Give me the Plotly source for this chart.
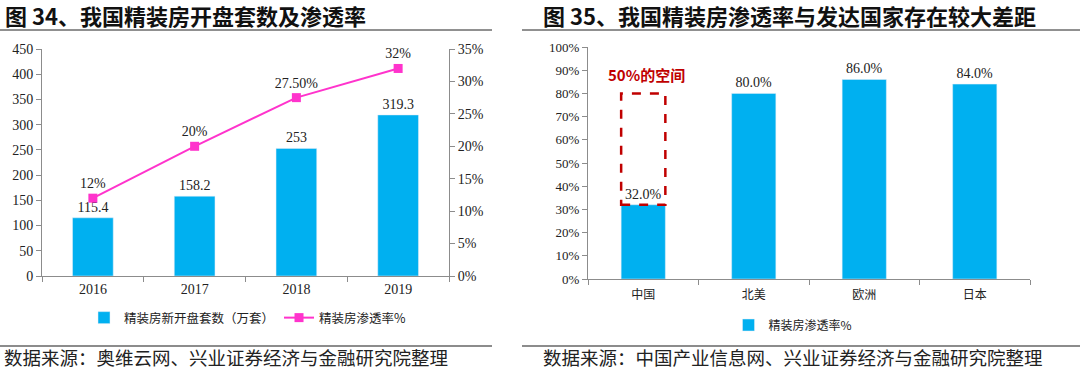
import plotly.graph_objects as go

# ---- data ----
years = ["2016", "2017", "2018", "2019"]
units = [115.4, 158.2, 253, 319.3]               # 万套
rate = [0.12, 0.20, 0.275, 0.32]
rate_labels = ["12%", "20%", "27.50%", "32%"]

regions = ["中国", "北美", "欧洲", "日本"]
pen = [0.32, 0.80, 0.86, 0.84]
gap_label = "50%的空间"

W, H = 1080, 371
def px(x): return x / W
def py(y): return 1 - y / H

BLUE = "#00B0F0"
PINK = "#FF33CC"
GRAY = "#8C8C8C"
SERIF = "Liberation Serif"
CJK = "Noto Sans CJK SC"

fig = go.Figure()

fig.add_trace(go.Bar(
    x=years, y=units, name="精装房新开盘套数（万套）",
    marker=dict(color=BLUE), text=[f"{v:g}" for v in units],
    textposition="outside", cliponaxis=False,
    textfont=dict(family=SERIF, size=14, color="#222"),
    xaxis="x", yaxis="y", legend="legend",
))
fig.add_trace(go.Scatter(
    x=years, y=rate, name="精装房渗透率%", mode="lines+markers+text",
    line=dict(color=PINK, width=2), marker=dict(symbol="square", size=9, color=PINK),
    text=rate_labels, textposition="top center", cliponaxis=False,
    textfont=dict(family=SERIF, size=14, color="#222"),
    xaxis="x", yaxis="y2", legend="legend",
))
fig.add_trace(go.Bar(
    x=regions, y=pen, name="精装房渗透率%",
    marker=dict(color=BLUE), text=[f"{v*100:.1f}%" for v in pen],
    textposition="outside", cliponaxis=False,
    textfont=dict(family=SERIF, size=14, color="#222"),
    xaxis="x3", yaxis="y3", legend="legend2",
))

axis_common = dict(showline=True, linecolor=GRAY, linewidth=1, ticks="outside",
                   tickcolor=GRAY, ticklen=5, showgrid=False, zeroline=False,
                   fixedrange=True, automargin=False)

fig.update_layout(
    width=W, height=H, margin=dict(l=0, r=0, t=0, b=0, autoexpand=False),
    paper_bgcolor="white", plot_bgcolor="white",
    bargap=0.6,
    xaxis=dict(domain=[px(42), px(449)], type="category", tickson="boundaries",
               tickfont=dict(family=SERIF, size=14, color="#222"),
               anchor="y", **axis_common),
    yaxis=dict(domain=[py(276), py(49)], range=[0, 450], dtick=50,
               tickfont=dict(family=SERIF, size=14, color="#222"),
               anchor="x", **axis_common),
    yaxis2=dict(overlaying="y", side="right", range=[0, 0.35], dtick=0.05,
                tickformat=".0%", anchor="x",
                tickfont=dict(family=SERIF, size=14, color="#222"),
                **axis_common),
    xaxis3=dict(domain=[px(588), px(1030)], type="category", tickson="boundaries",
                tickfont=dict(family=CJK, size=12, color="#222"),
                ticklabelstandoff=5,
                anchor="y3", **axis_common),
    yaxis3=dict(domain=[py(279), py(47)], range=[0, 1], dtick=0.1,
                tickformat=".0%", anchor="x3",
                tickfont=dict(family=SERIF, size=13, color="#222"),
                **axis_common),
    legend=dict(orientation="h", x=px(248), y=py(318), xanchor="center",
                yanchor="middle", font=dict(family=CJK, size=12.5, color="#222"),
                bgcolor="rgba(0,0,0,0)"),
    legend2=dict(orientation="h", x=px(793), y=py(325), xanchor="center",
                 yanchor="middle", font=dict(family=CJK, size=12, color="#222"),
                 bgcolor="rgba(0,0,0,0)"),
    showlegend=True,
)

# titles
fig.add_annotation(text="<b>图 34、我国精装房开盘套数及渗透率</b>", xref="paper", yref="paper",
                   x=px(3), y=py(15), xanchor="left", yanchor="middle", showarrow=False,
                   font=dict(family=CJK, size=22, color="#111"))
fig.add_annotation(text="<b>图 35、我国精装房渗透率与发达国家存在较大差距</b>", xref="paper", yref="paper",
                   x=px(541), y=py(15), xanchor="left", yanchor="middle", showarrow=False,
                   font=dict(family=CJK, size=22, color="#111"))
# sources
fig.add_annotation(text="数据来源：奥维云网、兴业证券经济与金融研究院整理", xref="paper", yref="paper",
                   x=px(2), y=py(357), xanchor="left", yanchor="middle", showarrow=False,
                   font=dict(family=CJK, size=18.5, color="#222"))
fig.add_annotation(text="数据来源：中国产业信息网、兴业证券经济与金融研究院整理", xref="paper", yref="paper",
                   x=px(541), y=py(357), xanchor="left", yanchor="middle", showarrow=False,
                   font=dict(family=CJK, size=18.5, color="#222"))

# rules
for x0, x1 in [(0, 492), (522, 1080)]:
    fig.add_shape(type="line", xref="paper", yref="paper", x0=px(x0), x1=px(x1),
                  y0=py(30), y1=py(30), line=dict(color="#222", width=1))
    fig.add_shape(type="line", xref="paper", yref="paper", x0=px(x0), x1=px(x1),
                  y0=py(346), y1=py(346), line=dict(color=GRAY, width=2))

# gap box on China bar: from China value up to North America value
half = 0.2
fig.add_shape(type="rect", xref="x3", yref="y3", x0=-half, x1=half,
              y0=pen[0], y1=pen[1], line=dict(color="#C00000", width=2.5, dash="dash"))
fig.add_annotation(text=f"<b>{gap_label}</b>", xref="x3", yref="y3",
                   x=0, y=pen[1] + 0.08, showarrow=False, xshift=3,
                   font=dict(family=CJK, size=15, color="#C00000"))

fig.write_html("out.html", config={"displayModeBar": False},
               post_script="document.body.style.margin='0px';document.body.style.overflow='hidden';")
